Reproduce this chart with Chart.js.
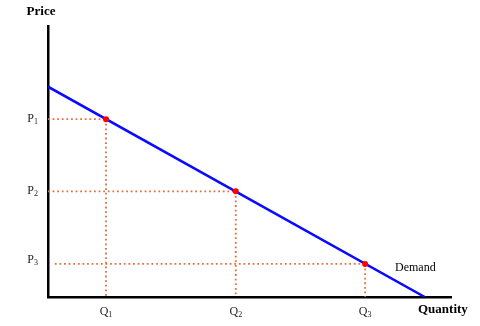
<!DOCTYPE html>
<html>
<head>
<meta charset="utf-8">
<script src="https://cdn.jsdelivr.net/npm/chart.js@4"></script>
<style>
  html, body { margin: 0; padding: 0; background: #fff; }
  #wrap { width: 480px; height: 326px; }
</style>
</head>
<body>
<div id="wrap"><canvas id="myChart"></canvas></div>
<script>
// values (axis runs 0..100 both ways)
const quantities = [14.4, 46.6, 78.7]
const prices = [65.6, 39.0, 12.2]
const qLabels = ['Q', 'Q', 'Q']
const pLabels = ['P', 'P', 'P']
const subs = ['1', '2', '3']
const demandQ = [0, 93.5]
const demandP = [77.6, 0]
const guideStart = [0, 0, 1.7]

let canva = document.querySelector('#myChart')

const dotColor = 'rgb(228, 112, 60)'
const serif = "'Liberation Serif', 'DejaVu Serif', serif"

const guides = []
for (let i = 0; i < quantities.length; i++) {
  guides.push({
    data: [{ x: guideStart[i], y: prices[i] }, { x: quantities[i], y: prices[i] }],
    showLine: true, borderColor: dotColor, borderWidth: 1.8,
    borderDash: [1.8, 2.8], pointRadius: 0
  })
  guides.push({
    data: [{ x: quantities[i], y: prices[i] }, { x: quantities[i], y: 0 }],
    showLine: true, borderColor: dotColor, borderWidth: 1.8,
    borderDash: [1.8, 2.8], pointRadius: 0
  })
}

const data = {
  datasets: [{
    label: 'points',
    data: quantities.map((q, i) => ({ x: q, y: prices[i] })),
    pointRadius: 3,
    pointBackgroundColor: '#ff0000',
    pointBorderWidth: 0,
    showLine: false
  }, {
    label: 'Demand',
    data: demandQ.map((q, i) => ({ x: q, y: demandP[i] })),
    showLine: true,
    borderColor: '#0a0aff',
    borderWidth: 2.5,
    pointRadius: 0
  }].concat(guides)
}

// letter + small subscript digit
function subLabel(ctx, letter, digit, x, y, align) {
  ctx.font = '12px ' + serif
  const w1 = ctx.measureText(letter).width
  ctx.font = '8px ' + serif
  const w2 = ctx.measureText(digit).width
  let left = x
  if (align === 'right') left = x - w1 - w2
  if (align === 'center') left = x - (w1 + w2) / 2
  ctx.textAlign = 'left'
  ctx.textBaseline = 'alphabetic'
  ctx.font = '12px ' + serif
  ctx.fillText(letter, left, y + 4)
  ctx.font = '8px ' + serif
  ctx.fillText(digit, left + w1, y + 6)
}

const textPlugin = {
  id: 'texts',
  afterDraw(chart) {
    const ctx = chart.ctx
    const a = chart.chartArea
    const xs = chart.scales.x
    const ys = chart.scales.y
    ctx.save()
    ctx.fillStyle = '#222'
    for (let i = 0; i < quantities.length; i++) {
      const py = ys.getPixelForValue(prices[i]) - (i === 2 ? 5 : 1)
      subLabel(ctx, pLabels[i], subs[i], a.left - 10, py, 'right')
      subLabel(ctx, qLabels[i], subs[i], xs.getPixelForValue(quantities[i]), a.bottom + 14, 'center')
    }
    ctx.fillStyle = '#000'
    ctx.textBaseline = 'middle'
    ctx.font = 'bold 13px ' + serif
    ctx.textAlign = 'center'
    ctx.fillText('Price', a.left - 7, 12)
    ctx.textAlign = 'left'
    ctx.fillText('Quantity', a.right - 33, a.bottom + 13)
    ctx.font = '12px ' + serif
    ctx.fillText('Demand', a.right - 56, a.bottom - 29)
    ctx.restore()
  }
}

const config = {
  type: 'scatter',
  data: data,
  options: {
    responsive: true,
    maintainAspectRatio: false,
    animation: false,
    layout: { padding: { top: 26, right: 29, left: 0, bottom: 0 } },
    plugins: { legend: { display: false }, tooltip: { enabled: false } },
    scales: {
      x: {
        min: 0, max: 100,
        grid: { display: false, drawTicks: false },
        border: { display: true, color: '#000', width: 2.5 },
        afterFit: (scale) => { scale.height = 29 },
        ticks: { display: false }
      },
      y: {
        min: 0, max: 100,
        grid: { display: false, drawTicks: false },
        border: { display: true, color: '#000', width: 2.5 },
        afterFit: (scale) => { scale.width = 48 },
        ticks: { display: false }
      }
    }
  },
  plugins: [textPlugin]
}

new Chart(canva, config)
</script>
</body>
</html>
